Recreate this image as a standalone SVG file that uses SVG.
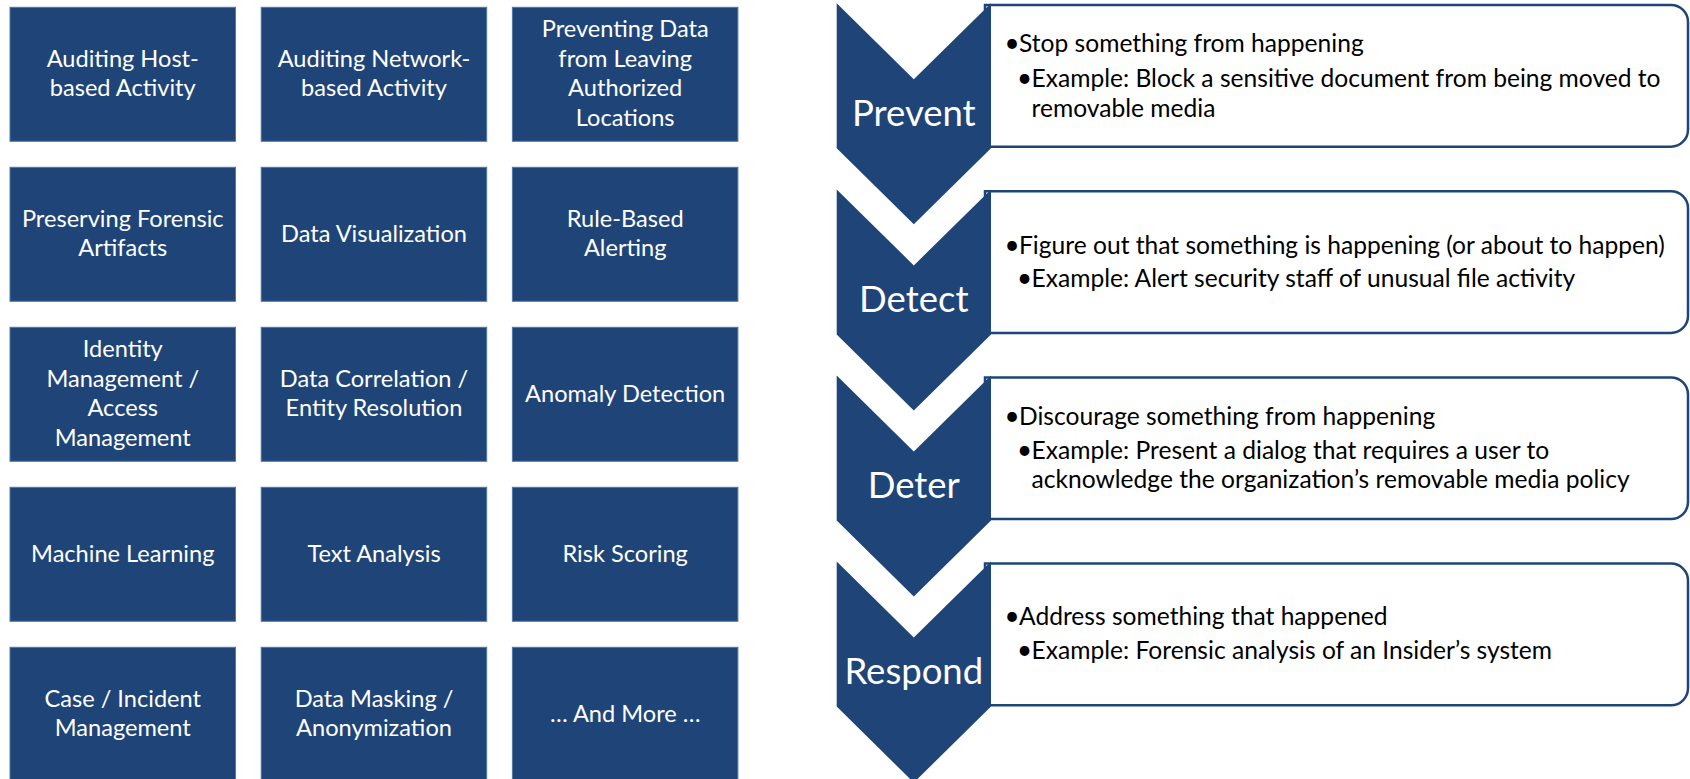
<svg xmlns="http://www.w3.org/2000/svg" width="1690" height="779" viewBox="0 0 1690 779">
  <style>
    .tile rect { fill: #1f4578; stroke: #5077a5; stroke-width: 1; }
    .tile text { font-family: Lato, "Open Sans", "Liberation Sans", sans-serif; font-size: 23.6px; fill: #ffffff; text-anchor: middle; }
    .chev path { fill: #1f4578; }
    .chev text { font-family: Lato, "Open Sans", "Liberation Sans", sans-serif; font-size: 36.5px; fill: #ffffff; text-anchor: middle; }
    .card path { fill: #ffffff; stroke: #1f4578; stroke-width: 2.5; }
    .card text { font-family: Lato, "Open Sans", "Liberation Sans", sans-serif; font-size: 24.6px; fill: #000000; }
    .card text.b { font-size: 26px; }
  </style>
  <rect width="1690" height="779" fill="#ffffff"/>

  <!-- capability tiles: 3 columns x 5 rows -->
  <g id="tiles">
    <g id="tile-host" class="tile"><rect x="10" y="7.3" width="225.5" height="134"/>
      <text x="122.75" y="66.9">Auditing Host-</text><text x="122.75" y="96.4">based Activity</text></g>
    <g id="tile-network" class="tile"><rect x="261.2" y="7.3" width="225.5" height="134"/>
      <text x="374" y="66.9">Auditing Network-</text><text x="374" y="96.4">based Activity</text></g>
    <g id="tile-dlp" class="tile"><rect x="512.4" y="7.3" width="225.5" height="134"/>
      <text x="625.2" y="37.4">Preventing Data</text><text x="625.2" y="66.9">from Leaving</text><text x="625.2" y="96.4">Authorized</text><text x="625.2" y="125.9">Locations</text></g>

    <g id="tile-forensic" class="tile"><rect x="10" y="167.3" width="225.5" height="134"/>
      <text x="122.75" y="226.9">Preserving Forensic</text><text x="122.75" y="256.4">Artifacts</text></g>
    <g id="tile-visual" class="tile"><rect x="261.2" y="167.3" width="225.5" height="134"/>
      <text x="374" y="241.7">Data Visualization</text></g>
    <g id="tile-rules" class="tile"><rect x="512.4" y="167.3" width="225.5" height="134"/>
      <text x="625.2" y="226.9">Rule-Based</text><text x="625.2" y="256.4">Alerting</text></g>

    <g id="tile-identity" class="tile"><rect x="10" y="327.3" width="225.5" height="134"/>
      <text x="122.75" y="357.4">Identity</text><text x="122.75" y="386.9">Management /</text><text x="122.75" y="416.4">Access</text><text x="122.75" y="445.9">Management</text></g>
    <g id="tile-correlation" class="tile"><rect x="261.2" y="327.3" width="225.5" height="134"/>
      <text x="374" y="386.9">Data Correlation /</text><text x="374" y="416.4">Entity Resolution</text></g>
    <g id="tile-anomaly" class="tile"><rect x="512.4" y="327.3" width="225.5" height="134"/>
      <text x="625.2" y="401.7">Anomaly Detection</text></g>

    <g id="tile-ml" class="tile"><rect x="10" y="487.3" width="225.5" height="134"/>
      <text x="122.75" y="561.7">Machine Learning</text></g>
    <g id="tile-text" class="tile"><rect x="261.2" y="487.3" width="225.5" height="134"/>
      <text x="374" y="561.7">Text Analysis</text></g>
    <g id="tile-risk" class="tile"><rect x="512.4" y="487.3" width="225.5" height="134"/>
      <text x="625.2" y="561.7">Risk Scoring</text></g>

    <g id="tile-case" class="tile"><rect x="10" y="647.3" width="225.5" height="134"/>
      <text x="122.75" y="706.9">Case / Incident</text><text x="122.75" y="736.4">Management</text></g>
    <g id="tile-masking" class="tile"><rect x="261.2" y="647.3" width="225.5" height="134"/>
      <text x="374" y="706.9">Data Masking /</text><text x="374" y="736.4">Anonymization</text></g>
    <g id="tile-more" class="tile"><rect x="512.4" y="647.3" width="225.5" height="134"/>
      <text x="625.2" y="721.7">… And More …</text></g>
  </g>

  <!-- description cards (rounded on the right, left edge tucked under the chevrons) -->
  <g id="cards">
    <g id="card-prevent" class="card">
      <path d="M985 5 H1671 A17 17 0 0 1 1688 22 V129.7 A17 17 0 0 1 1671 146.7 H985 Z"/>
      <text class="b" x="1004.5" y="52.3">•</text><text x="1019" y="52.3">Stop something from happening</text>
      <text class="b" x="1017" y="87.3">•</text><text x="1031.5" y="87.3">Example: Block a sensitive document from being moved to</text>
      <text x="1031.5" y="116.7">removable media</text>
    </g>
    <g id="card-detect" class="card">
      <path d="M985 191.2 H1671 A17 17 0 0 1 1688 208.2 V315.9 A17 17 0 0 1 1671 332.9 H985 Z"/>
      <text class="b" x="1004.5" y="253.7">•</text><text x="1019" y="253.7">Figure out that something is happening (or about to happen)</text>
      <text class="b" x="1017" y="287.2">•</text><text x="1031.5" y="287.2">Example: Alert security staff of unusual file activity</text>
    </g>
    <g id="card-deter" class="card">
      <path d="M985 377.4 H1671 A17 17 0 0 1 1688 394.4 V502.1 A17 17 0 0 1 1671 519.1 H985 Z"/>
      <text class="b" x="1004.5" y="424.8">•</text><text x="1019" y="424.8">Discourage something from happening</text>
      <text class="b" x="1017" y="459.1">•</text><text x="1031.5" y="459.1">Example: Present a dialog that requires a user to</text>
      <text x="1031.5" y="488.4">acknowledge the organization’s removable media policy</text>
    </g>
    <g id="card-respond" class="card">
      <path d="M985 563.6 H1671 A17 17 0 0 1 1688 580.6 V688.3 A17 17 0 0 1 1671 705.3 H985 Z"/>
      <text class="b" x="1004.5" y="625">•</text><text x="1019" y="625">Address something that happened</text>
      <text class="b" x="1017" y="659">•</text><text x="1031.5" y="659">Example: Forensic analysis of an Insider’s system</text>
    </g>
  </g>

  <!-- stage chevrons -->
  <g id="chevrons">
    <g id="chev-prevent" class="chev">
      <path d="M836.7 3.3 L913.8 79.3 L991 3.3 V148.3 L913.8 224.3 L836.7 148.3 Z"/>
      <text x="913.8" y="126">Prevent</text>
    </g>
    <g id="chev-detect" class="chev">
      <path d="M836.7 189.4 L913.8 265.4 L991 189.4 V334.4 L913.8 410.4 L836.7 334.4 Z"/>
      <text x="913.8" y="312.1">Detect</text>
    </g>
    <g id="chev-deter" class="chev">
      <path d="M836.7 375.5 L913.8 451.5 L991 375.5 V520.5 L913.8 596.5 L836.7 520.5 Z"/>
      <text x="913.8" y="498.2">Deter</text>
    </g>
    <g id="chev-respond" class="chev">
      <path d="M836.7 561.6 L913.8 637.6 L991 561.6 V706.6 L913.8 782.6 L836.7 706.6 Z"/>
      <text x="913.8" y="684.3">Respond</text>
    </g>
  </g>
</svg>
